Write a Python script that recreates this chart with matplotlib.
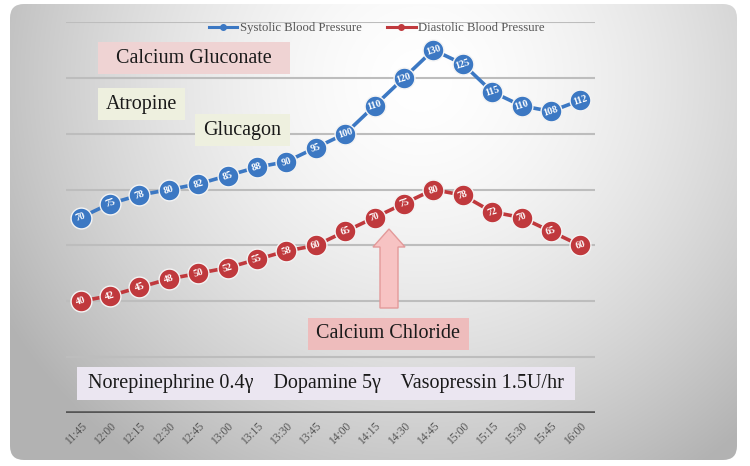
import numpy as np
import matplotlib
matplotlib.use("Agg")
import matplotlib.pyplot as plt
from matplotlib.patches import FancyBboxPatch, Rectangle, FancyArrow
from matplotlib.lines import Line2D

times = ["11:45", "12:00", "12:15", "12:30", "12:45", "13:00", "13:15", "13:30", "13:45",
         "14:00", "14:15", "14:30", "14:45", "15:00", "15:15", "15:30", "15:45", "16:00"]
systolic = [70, 75, 78, 80, 82, 85, 88, 90, 95, 100, 110, 120, 130, 125, 115, 110, 108, 112]
diastolic = [40, 42, 45, 48, 50, 52, 55, 58, 60, 65, 70, 75, 80, 78, 72, 70, 65, 60]
series_names = ["Systolic Blood Pressure", "Diastolic Blood Pressure"]
annotations = ["Calcium Gluconate", "Atropine", "Glucagon", "Calcium Chloride",
               "Norepinephrine 0.4\u03b3    Dopamine 5\u03b3    Vasopressin 1.5U/hr"]

W, H = 750, 466
SERIF = ["Liberation Serif", "DejaVu Serif"]
plt.rcParams["font.family"] = SERIF

fig = plt.figure(figsize=(7.5, 4.66), dpi=100)
fig.patch.set_facecolor("white")

# Background panel with gradient (pixel coordinates)
bg = fig.add_axes([0, 0, 1, 1])
bg.set_xlim(0, W)
bg.set_ylim(H, 0)
bg.axis("off")
yy, xx = np.mgrid[0:H, 0:W]
d = np.sqrt(((xx - 420) / 440.0) ** 2 + ((yy - 80) / 430.0) ** 2)
val = np.clip(1.0 - 0.26 * d ** 1.6, 0.70, 1.0)
img = np.dstack([val, val, val])
panel = FancyBboxPatch((10, 4), 727, 456, boxstyle="round,pad=0,rounding_size=14",
                       facecolor="none", edgecolor="none", transform=bg.transData)
bg.add_patch(panel)
im = bg.imshow(img, extent=(0, W, H, 0), interpolation="bilinear", zorder=0)
im.set_clip_path(panel)

# Main axes
L, R, T, B = 66, 595, 22, 413
ax = fig.add_axes([L / W, 1 - B / H, (R - L) / W, (B - T) / H])
ax.set_facecolor("none")
ax.set_xlim(-0.5, len(times) - 0.5)
ax.set_ylim(0, 140)
for s in ax.spines.values():
    s.set_visible(False)
ax.set_yticks([])
ax.set_xticks(range(len(times)))
ax.set_xticklabels(times, rotation=45, ha="right", rotation_mode="anchor",
                   fontsize=8.3, color="#555555")
ax.tick_params(axis="x", length=0, pad=5)
for gy in range(20, 141, 20):
    ax.axhline(gy, color="#bdbdbd", lw=1.5, zorder=1)
ax.axhline(0, color="#555555", lw=2.6, zorder=2)

blue = "#3c78c3"
red = "#c0393d"
x = np.arange(len(times))
for vals, col in [(systolic, blue), (diastolic, red)]:
    ax.plot(x, vals, color=col, lw=2.6, marker="o", ms=15, mfc=col, mec="#f4f4f4",
            mew=1.0, zorder=4)
    for xi, v in zip(x, vals):
        ax.text(xi, v, str(v), color="white", fontsize=7.2, fontweight="bold",
                ha="center", va="center", rotation=18, zorder=5)

# Legend
handles = [Line2D([0], [0], color=blue, lw=2.2, marker="o", ms=4),
           Line2D([0], [0], color=red, lw=2.2, marker="o", ms=4)]
leg = fig.legend(handles, series_names, loc="center", bbox_to_anchor=(377 / W, 1 - 28 / H),
                 ncol=2, frameon=False, fontsize=9.2, handlelength=2.2, handletextpad=0.2,
                 columnspacing=2.0, labelcolor="#555555")


def px2d(px, py):
    return (px - L) / ((R - L) / len(times)) - 0.5, (B - py) / ((B - T) / 140.0)


def box(x0, y0, x1, y1, color, text, fs=14.5, tcolor="#1a1a1a"):
    a = px2d(x0, y1)
    b = px2d(x1, y0)
    ax.add_patch(Rectangle(a, b[0] - a[0], b[1] - a[1], facecolor=color,
                           edgecolor="none", zorder=3))
    ax.text((a[0] + b[0]) / 2, (a[1] + b[1]) / 2, text, fontsize=fs, color=tcolor,
            ha="center", va="center", zorder=6)


box(98, 42, 290, 74, "#efd3d3", annotations[0])
box(98, 88, 185, 120, "#eef0df", annotations[1])
box(195, 114, 290, 146, "#eef0df", annotations[2])
box(308, 318, 469, 350, "#eebcbc", annotations[3])
box(77, 367, 575, 400, "#ebe6f1", annotations[4])

# Arrow
ax0, ay0 = px2d(389, 308)
_, ay1 = px2d(389, 229)
sw = 18 / ((R - L) / len(times))
hw = 32 / ((R - L) / len(times))
hl = 18 / ((B - T) / 140.0)
arr = FancyArrow(ax0, ay0, 0, ay1 - ay0, width=sw, head_width=hw, head_length=hl,
                 length_includes_head=True, facecolor="#f7c3c3", edgecolor="#e39a9a",
                 lw=1.0, zorder=3)
ax.add_patch(arr)

fig.savefig("out.png", dpi=100, facecolor="white")
